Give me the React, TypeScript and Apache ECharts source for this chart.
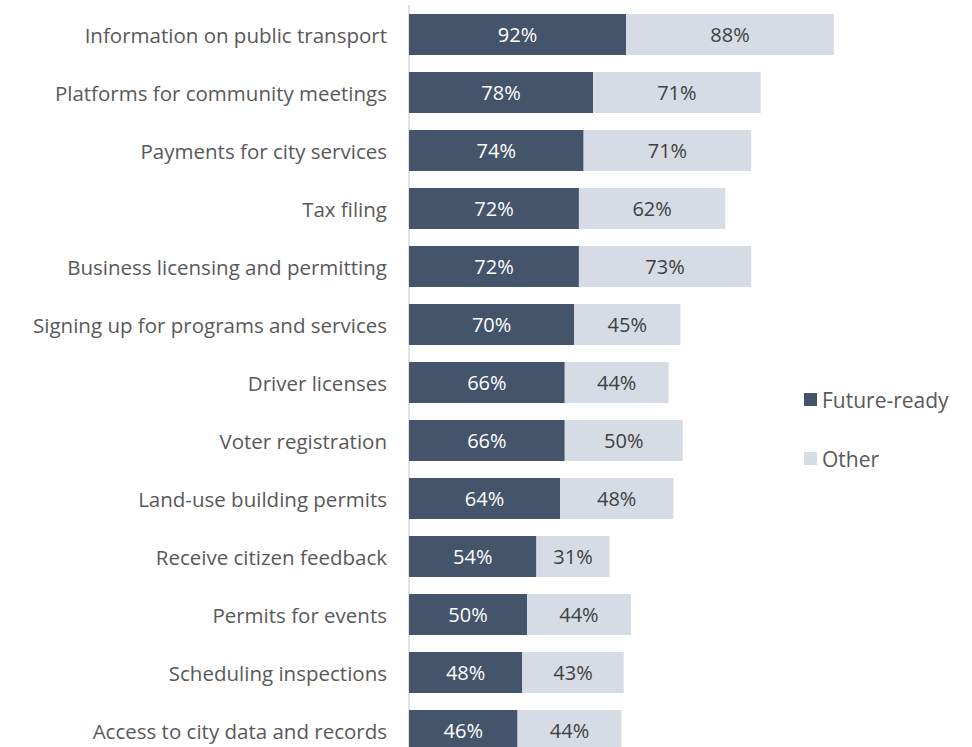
import React, { useEffect, useRef } from "react";
import * as echarts from "echarts";

const categories = [
  "Information on public transport",
  "Platforms for community meetings",
  "Payments for city services",
  "Tax filing",
  "Business licensing and permitting",
  "Signing up for programs and services",
  "Driver licenses",
  "Voter registration",
  "Land-use building permits",
  "Receive citizen feedback",
  "Permits for events",
  "Scheduling inspections",
  "Access to city data and records",
];
const futureReady = [92, 78, 74, 72, 72, 70, 66, 66, 64, 54, 50, 48, 46];
const other = [88, 71, 71, 62, 73, 45, 44, 50, 48, 31, 44, 43, 44];

const FONT = "'Open Sans', 'Noto Sans', sans-serif";

export default function App() {
  const ref = useRef<HTMLDivElement>(null);
  useEffect(() => {
    if (!ref.current) return;
    const chart = echarts.init(ref.current, null, { renderer: "svg" });
    chart.setOption({
      animation: false,
      backgroundColor: "#ffffff",
      grid: { left: 409, top: 5.5, width: 472, height: 754, containLabel: false },
      legend: {
        orient: "vertical",
        left: 804,
        top: 389,
        padding: 0,
        itemWidth: 13,
        itemHeight: 13,
        itemGap: 38,
        icon: "rect",
        textStyle: { fontFamily: FONT, fontSize: 21, color: "#595959" },
        data: ["Future-ready", "Other"],
      },
      xAxis: { type: "value", min: 0, max: 200, show: false },
      yAxis: {
        type: "category",
        inverse: true,
        data: categories,
        axisLine: { show: true, lineStyle: { color: "#D9D9D9", width: 1.5 } },
        axisTick: { show: false },
        axisLabel: { fontFamily: FONT, fontSize: 20.5, color: "#595959", margin: 22 },
      },
      series: [
        {
          name: "Future-ready",
          type: "bar",
          stack: "total",
          data: futureReady,
          barCategoryGap: "29%",
          itemStyle: { color: "#44546A" },
          label: {
            show: true,
            position: "inside",
            formatter: "{c}%",
            fontFamily: FONT,
            fontSize: 20,
            color: "#ffffff",
          },
        },
        {
          name: "Other",
          type: "bar",
          stack: "total",
          data: other,
          itemStyle: { color: "#D6DCE5" },
          label: {
            show: true,
            position: "inside",
            formatter: "{c}%",
            fontFamily: FONT,
            fontSize: 20,
            color: "#404040",
          },
        },
      ],
    });
    return () => chart.dispose();
  }, []);
  return (
    <div style={{ position: "absolute", left: 0, top: 0, width: 972, height: 747, overflow: "hidden" }}>
      <div ref={ref} style={{ width: 972, height: 770 }} />
    </div>
  );
}
